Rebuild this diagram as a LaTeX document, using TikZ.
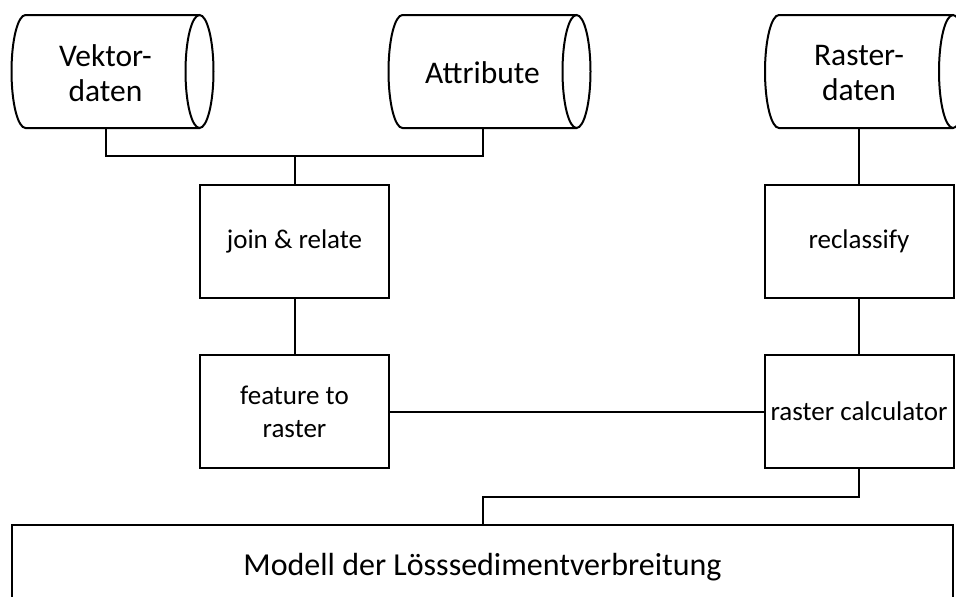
\documentclass[tikz,border=0pt]{standalone}
\usepackage{fontspec}
\setmainfont{Carlito}
\usepackage{tikz}
\usetikzlibrary{calc}
\tikzstyle{store}=[minimum width=160pt, minimum height=113pt, inner sep=0pt, outer sep=0pt, align=center, font=\fontsize{31.5}{35.5}\selectfont]
\tikzstyle{proc}=[draw, minimum width=189pt, minimum height=113pt, inner sep=2pt, align=center, font=\fontsize{27}{33}\selectfont]
\newcommand{\storeR}{14}
\newcommand{\storeH}{56.5}
\newcommand{\datastore}[3]{
\node[store] (#1) at (#2,-73) {#3};
\draw ([xshift=\storeR pt,yshift=1.5pt]#1.north east) -- ([yshift=1.5pt]#1.north west)
	arc[start angle=90, end angle=270, x radius=\storeR pt, y radius=\storeH pt]
	-- ([xshift=\storeR pt,yshift=1.5pt]#1.south east);
\draw ([xshift=\storeR pt,yshift=1.5pt]#1.east) ellipse [x radius=\storeR pt, y radius=\storeH pt];
}

\begin{document}
\begin{tikzpicture}[x=1pt, y=1pt, line width=2pt]
\useasboundingbox (0,0) rectangle (956,-597);
\clip (0,0) rectangle (956,-597);
\datastore{vek}{105.5}{Vektor-\\daten}
\datastore{att}{482.5}{Attribute}
\datastore{ras}{859}{Raster-\\daten}
\node[proc] (join) at (294.5,-241.5) {join \& relate};
\node[proc] (feat) at (294.5,-411.5) {feature to\\raster};
\node[proc] (recl) at (859,-241.5) {reclassify};
\node[proc] (calc) at (859,-411.5) {raster calculator};
\node[draw, minimum width=941pt, minimum height=85pt, font=\fontsize{32}{38}\selectfont] (model) at (482.5,-567.5) {Modell der Lösssedimentverbreitung};
\coordinate (merge) at (294.5,-156);
\draw ([yshift=1.5pt]vek.south) |- (merge) -| ([yshift=1.5pt]att.south);
\draw (merge) -- (join.north);
\draw (join) -- (feat);
\draw ([yshift=1.5pt]ras.south) -- (recl.north);
\draw (recl) -- (calc);
\draw (feat) -- (calc);
\draw (calc.south) -- ++(0,-28) -| (model.north);
\end{tikzpicture}
\end{document}
